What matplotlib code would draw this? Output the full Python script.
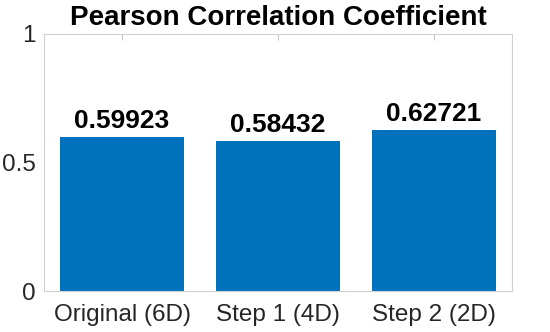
import numpy as np
import matplotlib
matplotlib.use('Agg')
import matplotlib.pyplot as plt

# data
categories = ['Original (6D)', 'Step 1 (4D)', 'Step 2 (2D)']
pcc = [0.59923, 0.58432, 0.62721]
yticks = [0, 0.5, 1]

plt.rcParams['font.family'] = ['Liberation Sans', 'DejaVu Sans']

fig = plt.figure(figsize=(5.5, 3.32), dpi=100)
ax = fig.add_axes([0.08, 0.1226, 0.851, 0.776])

x = np.arange(1, len(categories) + 1)
ax.bar(x, pcc, width=0.8, color='#0072BD', zorder=2)

for xi, v in zip(x, pcc):
    ax.text(xi, v + 0.014, '%.5f' % v, ha='center', va='bottom',
            fontsize=19, fontweight='bold', color='black')

ax.set_xlim(0.5, 3.5)
ax.set_ylim(0, 1)
ax.set_xticks(x)
ax.set_xticklabels(categories)
ax.set_yticks(yticks)
ax.set_yticklabels(['0', '0.5', '1'])
ax.tick_params(axis='x', direction='in', length=4, color='#c8c8c8',
               labelsize=17.5, labelcolor='#262626', top=True, pad=9)
ax.tick_params(axis='y', direction='in', length=0, labelsize=17.5,
               labelcolor='#262626', pad=6)
for lbl in ax.get_yticklabels():
    lbl.set_va('center_baseline')
for s in ax.spines.values():
    s.set_color('#d0d0d0')
    s.set_linewidth(0.8)

ax.set_title('Pearson Correlation Coefficient', fontsize=20,
             fontweight='bold', pad=6)

fig.savefig('out.png', dpi=100)
